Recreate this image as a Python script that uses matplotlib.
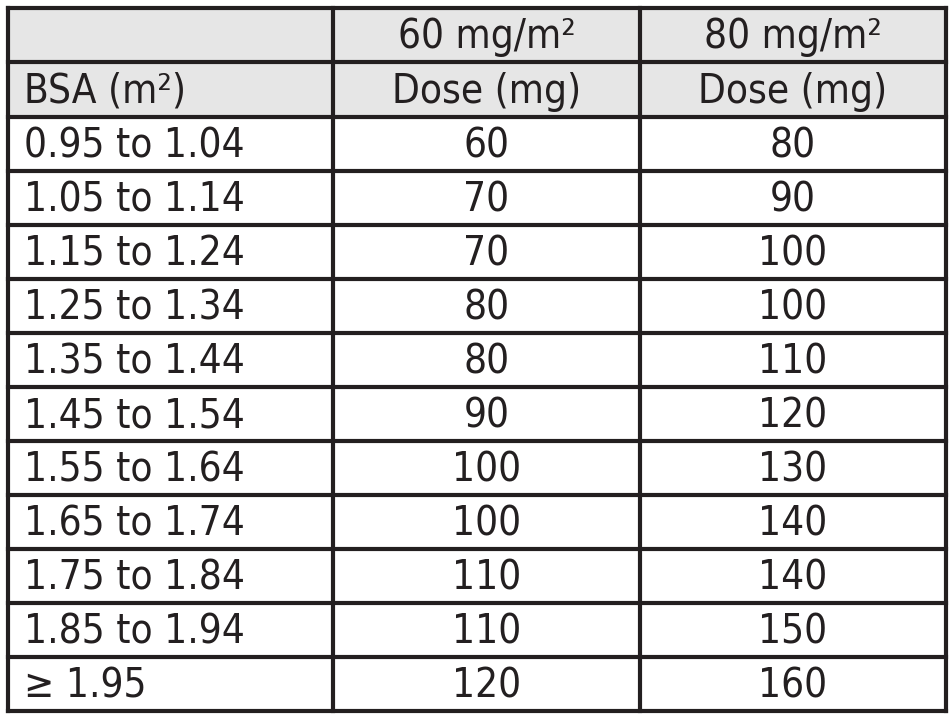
import matplotlib
matplotlib.use("Agg")
import matplotlib.pyplot as plt
from matplotlib.patches import Rectangle

bsa = ["0.95 to 1.04","1.05 to 1.14","1.15 to 1.24","1.25 to 1.34","1.35 to 1.44",
       "1.45 to 1.54","1.55 to 1.64","1.65 to 1.74","1.75 to 1.84","1.85 to 1.94","≥ 1.95"]
dose60 = [60,70,70,80,80,90,100,100,110,110,120]
dose80 = [80,90,100,100,110,120,130,140,140,150,160]
head1 = ["", "60 mg/m²", "80 mg/m²"]
head2 = ["BSA (m²)", "Dose (mg)", "Dose (mg)"]

W, H = 953, 719
fig = plt.figure(figsize=(W/100, H/100), dpi=100)
ax = fig.add_axes([0, 0, 1, 1])
ax.set_xlim(0, W); ax.set_ylim(H, 0); ax.axis("off")

xs = [8, 333, 640, 946]
ys = [8, 62, 117] + [117 + (711-117)/11*(i+1) for i in range(11)]
lc = "#231f20"
ax.add_patch(Rectangle((xs[0], ys[0]), xs[3]-xs[0], ys[2]-ys[0], color="#e6e6e6", zorder=0))
for y in ys:
    ax.plot([xs[0], xs[3]], [y, y], color=lc, lw=3, solid_capstyle="projecting")
for x in xs:
    ax.plot([x, x], [ys[0], ys[-1]], color=lc, lw=3, solid_capstyle="projecting")

fk = dict(fontsize=29, color=lc, family="DejaVu Sans", fontstretch="condensed", va="center")
def cy(i): return (ys[i]+ys[i+1])/2 + 2
for j in range(3):
    if j == 0:
        ax.text(24, cy(1), head2[0], ha="left", **fk)
    else:
        xc = (xs[j]+xs[j+1])/2
        ax.text(xc, cy(0), head1[j], ha="center", **fk)
        ax.text(xc, cy(1), head2[j], ha="center", **fk)
for i in range(len(bsa)):
    ax.text(24, cy(i+2), bsa[i], ha="left", **fk)
    ax.text((xs[1]+xs[2])/2, cy(i+2), str(dose60[i]), ha="center", **fk)
    ax.text((xs[2]+xs[3])/2, cy(i+2), str(dose80[i]), ha="center", **fk)

fig.savefig("out.png", dpi=100)
